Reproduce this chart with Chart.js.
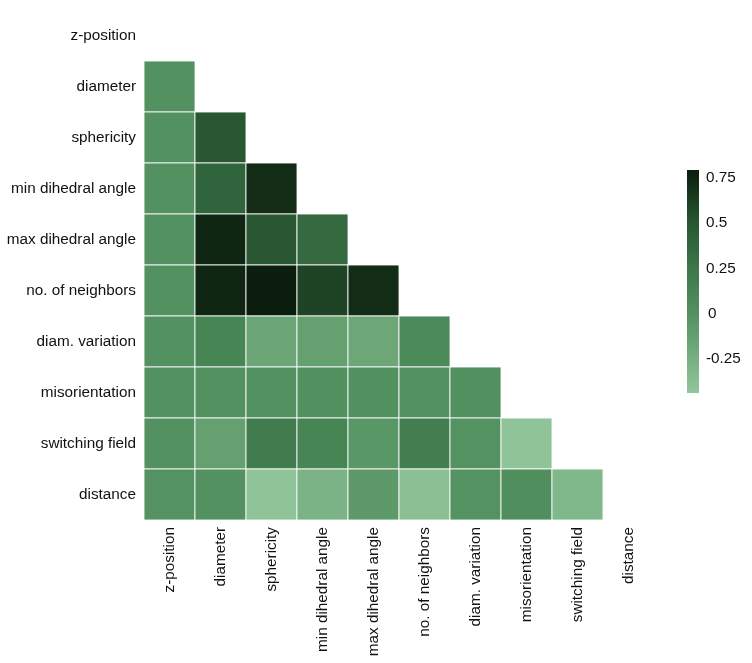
<!DOCTYPE html>
<html>
<head>
<meta charset="utf-8">
<script src="https://cdn.jsdelivr.net/npm/chart.js@4.4.0/dist/chart.umd.min.js"></script>
<style>
  html, body { margin: 0; padding: 0; background: #fff; }
  #wrap { width: 752px; height: 663px; }
</style>
</head>
<body>
<div id="wrap"><canvas id="heat"></canvas></div>
<script>
'use strict'

// categories (same order on both axes)
var labels = ['z-position', 'diameter', 'sphericity', 'min dihedral angle', 'max dihedral angle',
  'no. of neighbors', 'diam. variation', 'misorientation', 'switching field', 'distance'];

// lower triangle of the correlation matrix, one row per variable (columns left of the diagonal)
var rowZPosition = [];
var rowDiameter = [0.0];
var rowSphericity = [0.0, 0.5];
var rowMinDihedral = [0.0, 0.4, 0.72];
var rowMaxDihedral = [0.0, 0.75, 0.5, 0.35];
var rowNeighbors = [0.0, 0.75, 0.79, 0.6, 0.72];
var rowDiamVariation = [0.0, 0.12, -0.17, -0.12, -0.18, 0.07];
var rowMisorientation = [0.0, 0.0, 0.0, 0.01, 0.01, 0.0, 0.01];
var rowSwitching = [0.0, -0.12, 0.2, 0.12, -0.05, 0.18, -0.01, -0.42];
var rowDistance = [-0.01, 0.0, -0.42, -0.28, -0.07, -0.38, -0.01, 0.03, -0.32];

var corrRows = [rowZPosition, rowDiameter, rowSphericity, rowMinDihedral, rowMaxDihedral,
  rowNeighbors, rowDiamVariation, rowMisorientation, rowSwitching, rowDistance];

// colour bar
var cbMin = -0.438;
var cbMax = 0.794;
var cbTicks = [-0.25, 0, 0.25, 0.5, 0.75];

// colour map stops (value, rgb)
var stops = [
  [-0.438, [146, 198, 155]],
  [0.0, [83, 145, 96]],
  [0.25, [61, 119, 74]],
  [0.5, [40, 87, 50]],
  [0.794, [11, 29, 13]]
];

function colourFor(v) {
  if (v <= stops[0][0]) return 'rgb(' + stops[0][1].join(',') + ')';
  for (var i = 1; i < stops.length; i++) {
    if (v <= stops[i][0]) {
      var a = stops[i - 1], b = stops[i];
      var t = (v - a[0]) / (b[0] - a[0]);
      var c = a[1].map(function(x, k) { return Math.round(x + (b[1][k] - x) * t); });
      return 'rgb(' + c.join(',') + ')';
    }
  }
  return 'rgb(' + stops[stops.length - 1][1].join(',') + ')';
}

// build points
var cells = [];
corrRows.forEach(function(row, i) {
  row.forEach(function(v, j) {
    cells.push({ x: labels[j], y: labels[i], v: v });
  });
});

var font = { family: 'Liberation Sans, Arial, sans-serif', size: 15.3 };
var textColour = '#111';

// square side = one category slot
function cellRadius(c) {
  var area = c.chart.chartArea;
  return area ? (area.right - area.left) / labels.length / Math.SQRT2 : 30;
}

// colour bar drawn next to the matrix
var colourBar = {
  id: 'colourBar',
  afterDraw: function(chart) {
    var ctx = chart.ctx;
    var x = 687, w = 12, top = 170, bottom = 393;
    var grad = ctx.createLinearGradient(0, bottom, 0, top);
    stops.forEach(function(s) {
      grad.addColorStop((s[0] - cbMin) / (cbMax - cbMin), 'rgb(' + s[1].join(',') + ')');
    });
    ctx.save();
    ctx.fillStyle = grad;
    ctx.fillRect(x, top, w, bottom - top);
    ctx.fillStyle = textColour;
    ctx.font = font.size + 'px ' + font.family;
    ctx.textAlign = 'left';
    ctx.textBaseline = 'middle';
    cbTicks.forEach(function(t) {
      var y = bottom - (t - cbMin) / (cbMax - cbMin) * (bottom - top);
      ctx.fillText(String(t), t === 0 ? x + 21 : x + 19, y);
    });
    ctx.restore();
  }
};

new Chart(document.getElementById('heat'), {
  type: 'scatter',
  data: {
    datasets: [{
      data: cells,
      pointStyle: 'rect',
      pointRadius: cellRadius,
      pointHoverRadius: cellRadius,
      backgroundColor: function(c) { return c.raw ? colourFor(c.raw.v) : '#fff'; },
      borderColor: 'rgba(255,255,255,0.85)',
      borderWidth: 1
    }]
  },
  options: {
    responsive: true,
    maintainAspectRatio: false,
    animation: false,
    events: [],
    layout: { autoPadding: false, padding: { left: 0, top: 10, right: 98, bottom: 0 } },
    plugins: { legend: { display: false }, tooltip: { enabled: false } },
    scales: {
      x: {
        type: 'category',
        labels: labels,
        offset: true,
        grid: { display: false, drawTicks: false },
        border: { display: false },
        ticks: { color: textColour, font: font, minRotation: 90, maxRotation: 90, padding: 7, autoSkip: false },
        afterFit: function(s) { s.height = 143; s.paddingLeft = 0; s.paddingRight = 0; }
      },
      y: {
        type: 'category',
        labels: labels,
        offset: true,
        grid: { display: false, drawTicks: false },
        border: { display: false },
        ticks: { color: textColour, font: font, padding: 8, autoSkip: false },
        afterFit: function(s) { s.width = 144; s.paddingTop = 0; s.paddingBottom = 0; }
      }
    }
  },
  plugins: [colourBar]
});
</script>
</body>
</html>
